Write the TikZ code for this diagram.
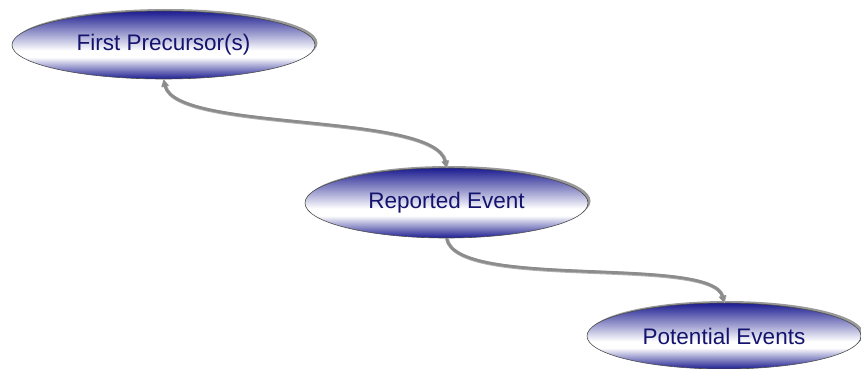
\documentclass[tikz,border=0pt]{standalone}
\usepackage{fontspec}
\setmainfont{Liberation Sans}
\usetikzlibrary{shapes.geometric,arrows.meta,shadows}
\definecolor{ovalblue}{RGB}{28,28,145}
\definecolor{textnavy}{RGB}{20,20,110}
\definecolor{linkgray}{RGB}{140,140,140}
\pgfdeclareverticalshading{ovalshade}{100bp}{color(0bp)=(ovalblue); color(25bp)=(ovalblue); color(41bp)=(white); color(46bp)=(white); color(75bp)=(ovalblue); color(100bp)=(ovalblue)}
\tikzset{
  oval/.style={ellipse, inner sep=0pt, draw=black!70, line width=0.6pt,
    shading=ovalshade,
    drop shadow={shadow xshift=2.5pt, shadow yshift=2pt, fill=gray!80, opacity=1},
    font=\fontsize{22.5}{26}\selectfont, text=textnavy},
  link/.style={draw=linkgray, line width=2.8pt,
    preaction={draw=gray!60, line width=3.6pt, transform canvas={xshift=0.6pt, yshift=-0.6pt}}},
  tip/.style={Triangle[length=7pt,width=8pt]}
}
\begin{document}
\begin{tikzpicture}[x=1pt,y=-1pt]
\useasboundingbox (0,0) rectangle (861,369);
\node[oval, minimum width=303pt, minimum height=68pt] (fp) at (163.5,45) {First Precursor(s)};
\node[oval, minimum width=283pt, minimum height=70pt] (re) at (446.5,203) {Reported Event};
\node[oval, minimum width=274pt, minimum height=66pt] (pe) at (724,336) {Potential Events};
\draw[link, {Triangle[length=7pt,width=7pt]}-{Triangle[length=7pt,width=7pt]}]
  (fp.south) .. controls +(12,53) and +(-12,-56) .. (re.north);
\draw[link, -{Triangle[length=7pt,width=7pt]}]
  (re.south) .. controls +(9,52) and +(-12,-48) .. (pe.north);
\end{tikzpicture}
\end{document}
